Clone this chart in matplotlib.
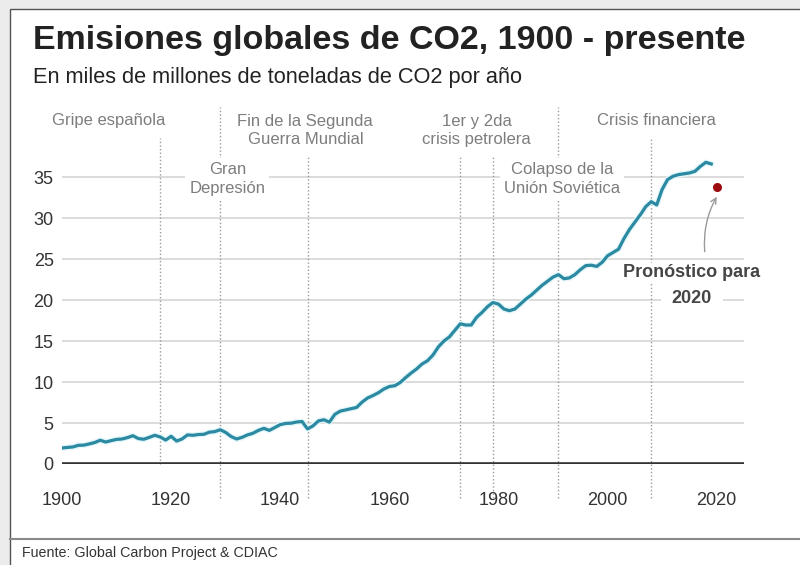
import matplotlib.pyplot as plt
import matplotlib.patheffects as pe
from matplotlib.patches import Rectangle

plt.rcParams['font.family'] = ['Liberation Sans', 'DejaVu Sans']

#--Data
years = list(range(1900, 2020))
emissions = [
    1.95, 2.02, 2.08, 2.28, 2.30, 2.45, 2.62, 2.90, 2.68, 2.85,   # 1900s
    3.00, 3.05, 3.22, 3.45, 3.10, 3.02, 3.25, 3.50, 3.30, 2.92,   # 1910s
    3.38, 2.80, 3.05, 3.55, 3.50, 3.60, 3.62, 3.88, 3.95, 4.18,   # 1920s
    3.85, 3.35, 3.05, 3.25, 3.55, 3.75, 4.10, 4.35, 4.10, 4.45,   # 1930s
    4.80, 4.95, 4.98, 5.12, 5.18, 4.28, 4.65, 5.25, 5.40, 5.10,   # 1940s
    6.05, 6.45, 6.60, 6.75, 6.90, 7.55, 8.05, 8.35, 8.70, 9.15,   # 1950s
    9.45, 9.55, 9.95, 10.55, 11.10, 11.60, 12.20, 12.60, 13.30, 14.30,  # 1960s
    15.00, 15.50, 16.30, 17.10, 16.95, 16.95, 17.90, 18.50, 19.20, 19.70,  # 1970s
    19.50, 18.90, 18.70, 18.90, 19.50, 20.10, 20.60, 21.20, 21.80, 22.30,  # 1980s
    22.80, 23.10, 22.60, 22.70, 23.10, 23.70, 24.20, 24.25, 24.10, 24.60,  # 1990s
    25.40, 25.80, 26.20, 27.50, 28.60, 29.50, 30.40, 31.40, 32.00, 31.60,  # 2000s
    33.50, 34.70, 35.10, 35.30, 35.40, 35.50, 35.70, 36.30, 36.80, 36.60,  # 2010s
]
forecast_year = 2020
forecast_value = 33.8

events = [
    (1918, 'Gripe española'),
    (1929, 'Gran\nDepresión'),
    (1945, 'Fin de la Segunda\nGuerra Mundial'),
    (1973, '1er y 2da\ncrisis petrolera'),
    (1979, None),
    (1991, 'Colapso de la\nUnión Soviética'),
    (2008, 'Crisis financiera'),
]
# label x-centre, label y, line top, extends below the axis
event_style = {
    1918: (1908.5, 41.95, 39.8, False),
    1929: (1930.3, 34.8, 43.5, True),
    1945: (1944.6, 40.7, 37.7, True),
    1973: (1976.0, 40.7, 37.7, True),
    1979: (None, None, 37.7, True),
    1991: (1991.6, 34.8, 43.5, True),
    2008: (2009.0, 41.95, 39.9, True),
}

yticks = [0, 5, 10, 15, 20, 25, 30, 35]
xticks = [1900, 1920, 1940, 1960, 1980, 2000, 2020]

#--Figure
fig = plt.figure(figsize=(8, 5.65), dpi=100, facecolor='#ececec')
fig.patches.append(Rectangle((10 / 800, -0.01), 1.0, (565 - 9) / 565 + 0.01,
                             transform=fig.transFigure, facecolor='white',
                             edgecolor='#555555', linewidth=1, zorder=-10))

ax = fig.add_axes([62 / 800, 1 - 464 / 565, 682 / 800, 364 / 565])
ax.set_facecolor('none')
for s in ax.spines.values():
    s.set_visible(False)
ax.set_xlim(1900, 2025)
ax.set_ylim(0, 44.4)

# grid
for v in yticks[1:]:
    ax.plot([1900, 2025], [v, v], color='#dcdcdc', lw=1.4, zorder=1)
ax.plot([1900, 2025], [0, 0], color='#333333', lw=2.6, zorder=4, solid_capstyle='butt')

# event lines and labels
for yr, label in events:
    lx, ly, top, below = event_style[yr]
    ax.plot([yr, yr], [-4.1 if below else 0, top], color='#9a9a9a', lw=1,
            linestyle=(0, (1, 1.6)), zorder=2, clip_on=False)
    if label:
        ax.text(lx, ly, label, ha='center', va='center', fontsize=12,
                color='#7d7d7d', linespacing=1.3, zorder=3,
                bbox=dict(facecolor='white', edgecolor='none', pad=3))

# series
ax.plot(years, emissions, color='#2b8aa1', lw=2.3, zorder=5,
        path_effects=[pe.Stroke(linewidth=4.2, foreground='#e4f7fb'), pe.Normal()])
ax.plot([forecast_year], [forecast_value], 'o', color='#9b0b10', ms=5.5, zorder=6)

# forecast note
ax.text(2015.4, 20.2, '2020', ha='center', va='center', fontsize=13,
        fontweight='bold', color='#454545', zorder=6,
        bbox=dict(boxstyle='square,pad=0.6', facecolor='white', edgecolor='none'))
ax.text(2015.4, 23.3, 'Pronóstico para', ha='center', va='center', fontsize=13,
        fontweight='bold', color='#454545', zorder=7,
        bbox=dict(boxstyle='square,pad=0.1', facecolor='white', edgecolor='none'))
ax.annotate('', xy=(2020.0, 32.6), xytext=(2017.8, 25.9),
            arrowprops=dict(arrowstyle='->', color='#9a9a9a', lw=1,
                            shrinkA=0, shrinkB=0,
                            connectionstyle='arc3,rad=-0.15'))

ax.set_yticks(yticks)
ax.set_yticklabels([str(v) for v in yticks])
ax.set_xticks(xticks)
ax.set_xticklabels([str(v) for v in xticks])
ax.tick_params(axis='y', length=0, pad=6, labelsize=13, labelcolor='#333333')
ax.tick_params(axis='x', length=0, pad=20, labelsize=13, labelcolor='#333333')

#--Titles and footer
fig.text(33 / 800, 1 - 40 / 565, 'Emisiones globales de CO2, 1900 - presente',
         fontsize=24.5, fontweight='bold', color='#222222', va='center', ha='left')
fig.text(33 / 800, 1 - 77 / 565, 'En miles de millones de toneladas de CO2 por año',
         fontsize=15.7, color='#222222', va='center', ha='left')
fig.add_artist(plt.Line2D([10 / 800, 1], [1 - 539 / 565] * 2, color='#8a8a8a', lw=1.5))
fig.text(22 / 800, 1 - 553 / 565, 'Fuente: Global Carbon Project & CDIAC',
         fontsize=10.3, color='#333333', va='center', ha='left')

plt.savefig('out.png', dpi=100, facecolor=fig.get_facecolor())
plt.close()
